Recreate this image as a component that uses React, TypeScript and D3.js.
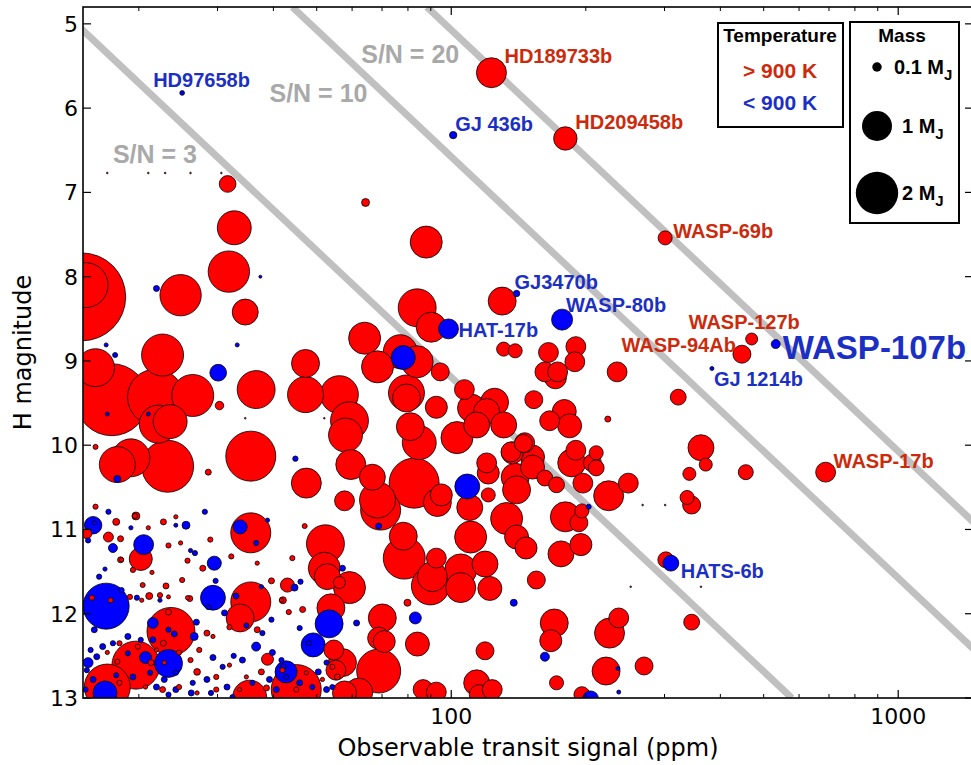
import React from "react";
import * as d3 from "d3";

// labelled planets: name, transit signal (ppm), H magnitude, mass (M_J), hot (>900 K)
const namedPlanets = ["HD97658b", "HD189733b", "GJ 436b", "HD209458b", "WASP-69b", "GJ3470b", "WASP-80b", "HAT-17b", "WASP-127b", "WASP-94Ab", "WASP-107b", "GJ 1214b", "WASP-17b", "HATS-6b"];
const namedPpm = [25.0, 123, 101, 180, 301, 140, 177, 98.6, 470, 447, 532, 383, 688, 310];
const namedH = [5.82, 5.58, 6.32, 6.36, 7.54, 8.2, 8.51, 8.62, 8.74, 8.92, 8.8, 9.09, 10.32, 11.4];
const namedMass = [0.025, 1.0, 0.06, 0.61, 0.22, 0.045, 0.49, 0.44, 0.16, 0.36, 0.09, 0.018, 0.44, 0.28];
const namedHot = [false, true, false, true, true, false, false, false, true, true, false, false, true, false];

// other hot planets [ppm, H, mass]
const hotPlanets = [
  [302, 11.36, 0.28], [31.6, 6.9, 0.31], [32.7, 7.42, 1.28], [31.8, 7.94, 1.9], [24.8, 8.22, 1.9],
  [14.9, 8.24, 8.6], [15.2, 8.1, 2.25], [16.0, 9.08, 1.6], [22.6, 8.93, 1.96], [17.4, 9.46, 5.76],
  [21.8, 9.43, 3.5], [26.4, 9.41, 1.96], [23.5, 9.72, 1.28], [22.1, 9.75, 1.6], [17.9, 10.23, 1.44],
  [19.2, 10.15, 1.6], [23.2, 10.25, 3.0], [35.6, 10.13, 2.78], [36.6, 9.34, 1.6], [47.2, 9.03, 0.87],
  [47.2, 9.4, 1.44], [56.2, 9.4, 1.6], [59.2, 9.71, 1.6], [58.0, 9.88, 1.28], [59.6, 10.23, 1.0],
  [34.6, 8.42, 0.75], [30.3, 9.53, 0.08], [16.0, 10.02, 0.028], [47.4, 10.45, 1.0], [64.3, 7.12, 0.07],
  [87.9, 7.59, 1.14], [83.9, 8.37, 1.6], [90.2, 8.6, 1.0], [130, 8.29, 0.87], [64.0, 8.73, 1.14],
  [68.4, 9.07, 1.14], [76.9, 8.89, 1.28], [83.9, 9.01, 1.14], [94.5, 9.13, 0.36], [107, 9.34, 0.44],
  [131, 8.86, 0.22], [139, 8.88, 0.22], [165, 8.9, 0.44], [190, 8.83, 0.44], [189, 9.01, 0.44],
  [162, 9.13, 0.44], [171, 9.2, 0.54], [173, 9.13, 0.44], [235, 9.13, 0.44], [224, 9.69, 0.04],
  [79.4, 9.38, 1.44], [79.4, 9.44, 0.87], [92.6, 9.55, 0.54], [81.0, 9.78, 0.87], [84.8, 9.97, 1.28],
  [103, 9.91, 1.14], [111, 9.56, 0.87], [125, 9.49, 0.87], [120, 9.6, 0.75], [131, 9.76, 0.75],
  [114, 9.76, 0.75], [153, 9.46, 0.36], [179, 9.6, 0.64], [166, 9.71, 0.44], [184, 9.77, 0.64],
  [146, 9.97, 0.44], [136, 10.08, 0.44], [152, 10.14, 0.64], [190, 10.06, 0.44], [211, 10.09, 0.22],
  [186, 10.21, 0.87], [207, 10.21, 0.36], [120, 10.21, 0.44], [57.7, 10.66, 0.44], [66.6, 10.38, 0.75],
  [68.4, 10.65, 1.44], [69.5, 10.77, 1.78], [82.6, 10.45, 2.78], [95.0, 10.59, 0.54], [93.1, 10.68, 0.87],
  [78.1, 11.08, 0.87], [78.5, 11.34, 1.96], [90.7, 11.56, 1.0], [89.8, 11.67, 1.6], [105, 11.48, 1.14],
  [105, 11.69, 1.0], [92.6, 11.34, 0.44], [119, 11.41, 0.75], [122, 11.7, 0.64], [110, 10.74, 0.75],
  [110.5, 11.09, 1.14], [121, 10.59, 0.22], [121, 10.33, 0.54], [133, 10.87, 1.14], [139, 10.38, 0.87],
  [140, 10.53, 0.87], [140, 11.09, 0.64], [147, 11.22, 0.54], [152, 10.26, 0.64], [145, 9.98, 0.36],
  [137, 10.09, 0.54], [162, 10.39, 0.28], [172, 10.47, 0.28], [211, 10.27, 0.28], [197, 10.45, 0.44],
  [225, 10.6, 1.0], [249, 10.45, 0.44], [180, 10.85, 1.0], [193, 10.92, 0.36], [196, 10.78, 0.22],
  [176, 11.29, 0.75], [195, 11.18, 0.54], [155, 11.6, 0.36], [170, 12.11, 0.87], [167, 12.32, 0.54],
  [119, 12.44, 0.36], [172, 12.82, 0.22], [226, 12.23, 1.0], [237, 12.05, 0.44], [222, 12.68, 0.87],
  [114, 12.82, 0.75], [115.5, 12.96, 0.44], [84, 12.36, 0.64], [79.8, 11.87, 0.054], [70.1, 12.05, 0.87],
  [68.8, 12.29, 0.54], [70.8, 12.33, 0.54], [68.8, 12.68, 2.15], [53.8, 11.93, 0.87], [54.6, 12.43, 0.44],
  [57.1, 12.58, 0.87], [55.2, 12.67, 0.44], [62.1, 12.93, 0.87], [57.7, 12.94, 0.64], [52, 11.46, 1.14],
  [52.3, 11.17, 1.6], [52.8, 11.56, 0.75], [59.2, 11.69, 1.14], [56.2, 11.63, 0.16], [47, 10.96, 0.028],
  [345, 12.1, 0.28], [270, 12.62, 0.36], [196, 12.96, 0.28], [86.5, 12.9, 0.44], [92.6, 12.93, 0.44],
  [123.5, 12.9, 0.44], [322, 9.43, 0.28], [362, 10.03, 0.75], [371, 10.23, 0.19], [341, 10.34, 0.19],
  [456, 10.32, 0.25], [337, 10.62, 0.22], [345, 10.71, 0.36], [15.3, 11.05, 0.11], [17.1, 11.09, 0.11],
  [17.8, 10.91, 0.054], [19.7, 10.84, 0.07], [18.2, 11.11, 0.04], [20.2, 11.35, 0.59], [18.2, 11.36, 0.04],
  [35.6, 11.04, 1.78], [43, 11.66, 0.22], [42, 11.84, 0.054], [35.6, 11.86, 1.78], [33.7, 12.05, 0.87],
  [23.6, 12.21, 2.56], [19.7, 12.61, 2.56], [17.0, 12.87, 2.35], [38.8, 12.54, 0.16], [45.0, 12.9, 2.78],
  [35.4, 12.99, 1.28], [26.0, 11.82, 0.04], [21.1, 11.79, 0.054], [20.4, 11.66, 0.028], [23.3, 11.8, 0.018],
  [28.6, 10.32, 0.04],
];

// small hot planets in the faint corner
const hotSmall = [
  [19.6, 10.84, 0.03], [24.2, 10.85, 0.02], [22.7, 10.91, 0.04], [23.3, 11.19, 0.03], [24.8, 11.16, 0.02],
  [25.7, 11.37, 0.03], [27.8, 11.46, 0.04], [19.4, 11.48, 0.03], [21.4, 11.51, 0.02], [25.0, 11.6, 0.03],
  [23.0, 11.67, 0.04], [18.3, 11.36, 0.02], [19.1, 11.8, 0.03], [20.3, 11.84, 0.02], [22.3, 11.78, 0.03],
  [25.7, 11.81, 0.02], [32.2, 11.32, 0.03], [39.6, 11.61, 0.04], [44.1, 11.34, 0.03], [46.5, 11.95, 0.04],
  [43.3, 11.98, 0.03], [41.7, 11.84, 0.02], [31.9, 12.16, 0.03], [28.4, 12.23, 0.04], [29.3, 12.27, 0.02],
  [24.6, 12.46, 0.03], [22.7, 12.35, 0.04], [21.9, 12.43, 0.02], [19.9, 12.39, 0.03], [17.0, 12.46, 0.02],
  [17.9, 12.57, 0.03], [21.3, 12.58, 0.04], [22.8, 12.58, 0.02], [26.1, 12.55, 0.03], [27.0, 12.69, 0.05],
  [29.8, 12.75, 0.03], [34.8, 12.75, 0.02], [37.6, 12.69, 0.04], [41.9, 12.67, 0.03], [47.4, 12.7, 0.02],
  [54.2, 12.63, 0.03], [55.6, 12.75, 0.04], [51.5, 12.78, 0.02], [45.0, 12.9, 0.03], [38.6, 12.88, 0.04],
  [33.6, 12.9, 0.02], [29.8, 12.9, 0.03], [27.0, 12.94, 0.02], [24.6, 12.87, 0.03], [22.6, 12.9, 0.04],
  [20.7, 12.87, 0.02], [18.1, 12.82, 0.03], [16.0, 10.73, 0.03], [21.0, 10.98, 0.02], [28.9, 11.12, 0.03],
  [36.8, 11.4, 0.02], [17.3, 11.84, 0.03], [23.3, 11.98, 0.04], [27.3, 12.43, 0.03], [31.9, 12.61, 0.02],
  [15.7, 11.81, 0.03], [36.8, 12.19, 0.04], [18.1, 12.35, 0.03],
];

// cool planets [ppm, H, mass]
const coolPlanets = [
  [78.1, 8.96, 0.64], [108.6, 10.49, 0.69], [21.9, 8.14, 0.04], [17.7, 8.93, 0.028], [16.9, 8.81, 0.018],
  [33.2, 8.81, 0.018], [37.4, 8.0, 0.01], [17.0, 9.63, 0.018], [21.0, 9.63, 0.018], [44.8, 10.16, 0.032],
  [30.1, 9.14, 0.31], [17.9, 10.4, 0.054], [15.8, 10.95, 0.34], [17.5, 11.22, 0.09], [20.5, 11.18, 0.44],
  [25.5, 10.95, 0.07], [24.2, 10.95, 0.018], [29.5, 11.4, 0.22], [33.7, 10.97, 0.22], [44.6, 11.69, 0.054],
  [16.9, 11.91, 2.35], [29.3, 11.81, 0.69], [23.3, 12.59, 0.87], [16.8, 12.94, 0.64], [21.5, 12.11, 0.13],
  [20.7, 12.52, 0.16], [15.4, 12.58, 0.11], [26.6, 12.27, 0.07], [36.6, 12.39, 0.09], [42.7, 12.69, 0.54],
  [49.1, 12.37, 0.64], [53.3, 12.12, 0.87], [83.1, 12.05, 0.16], [61.4, 12.11, 0.04], [57.1, 11.46, 0.04],
  [68.8, 10.96, 0.04], [138, 11.87, 0.054], [203, 10.73, 0.028], [162, 12.51, 0.09], [236, 12.65, 0.018],
  [237, 12.93, 0.018], [205, 13.01, 0.28],
];

const coolSmall = [
  [17.1, 10.79, 0.03], [15.9, 10.92, 0.02], [36.6, 11.16, 0.03], [26.1, 11.25, 0.02], [26.7, 11.28, 0.03],
  [16.3, 11.56, 0.03], [16.8, 11.47, 0.02], [29.7, 11.61, 0.03], [37.6, 11.68, 0.02], [46.0, 11.62, 0.03],
  [19.8, 11.81, 0.03], [22.3, 11.84, 0.02], [33.0, 11.79, 0.04], [37.8, 12.23, 0.03], [29.3, 12.52, 0.04],
  [32.6, 12.5, 0.03], [39.8, 12.46, 0.04], [41.7, 12.55, 0.03], [42.1, 12.63, 0.04], [52.6, 12.58, 0.03],
  [50.4, 12.69, 0.04], [48.0, 12.35, 0.03], [34.8, 12.14, 0.03], [31.1, 11.99, 0.04], [28.6, 11.92, 0.03],
  [24.0, 12.24, 0.04], [23.3, 12.19, 0.03], [21.5, 12.31, 0.04], [20.2, 12.31, 0.03], [18.9, 12.27, 0.04],
  [17.5, 12.35, 0.03], [16.6, 12.39, 0.04], [15.6, 12.43, 0.03], [16.1, 12.51, 0.04], [15.3, 12.67, 0.03],
  [15.8, 12.78, 0.04], [15.2, 12.9, 0.03], [18.9, 12.47, 0.03], [19.4, 12.75, 0.04], [21.2, 12.7, 0.03],
  [22.8, 12.78, 0.04], [24.2, 12.7, 0.03], [24.2, 12.9, 0.04], [26.4, 12.82, 0.03], [28.4, 12.78, 0.04],
  [30.8, 12.63, 0.03], [31.5, 12.87, 0.04], [35.9, 12.82, 0.03], [39.2, 12.78, 0.04], [42.7, 12.75, 0.03],
  [45.8, 12.82, 0.04], [48.9, 12.87, 0.03], [52.6, 12.9, 0.04], [54.2, 12.87, 0.03], [40.6, 12.9, 0.04],
  [29.0, 12.94, 0.03], [26.2, 12.94, 0.04], [23.3, 12.96, 0.03], [21.9, 12.87, 0.04], [32.4, 12.99, 0.03],
  [15.4, 11.13, 0.03], [19.2, 10.98, 0.02], [28.1, 10.79, 0.03], [38.8, 10.89, 0.02], [18.3, 11.72, 0.03],
  [26.9, 12.1, 0.04], [39.6, 12.07, 0.03], [45.8, 12.17, 0.03], [15.9, 12.19, 0.04], [17.8, 12.73, 0.03],
  [34.1, 12.55, 0.04],
];

// planets too light to show more than a dot
const tinyDots = [
  [17.0, 6.77], [21.0, 6.77], [22.9, 6.77], [26.1, 6.77], [30.6, 6.77],
  [268, 10.71], [301, 10.71], [252, 11.68], [362, 11.68], [34.6, 9.68], [52.0, 9.68],
];

// S/N lines: ppm where each crosses the top (H = 4.8) and bottom (H = 13) of the plot
const snLabels = ["S/N = 3", "S/N = 10", "S/N = 20"];
const snTopPpm = [13.2, 44.1, 88.2];
const snBottomPpm = [578, 1927, 3853];
const snLabelPpm = [17.5, 39.2, 62.9];
const snLabelH = [6.65, 5.93, 5.46];

const yTicks = [5, 6, 7, 8, 9, 10, 11, 12, 13];
const xMajor = [100, 1000];
const xMinor = [20, 30, 40, 50, 60, 70, 80, 90, 200, 300, 400, 500, 600, 700, 800, 900];
const massLegend = [0.1, 1, 2];
const massLegendText = ["0.1 M", "1 M", "2 M"];

const width = 971;
const height = 765;
const box = { left: 83, right: 973, top: 7, bottom: 698 };
const RED = "#ff0000";
const BLUE = "#0000ff";
const RED_TXT = "#cc2a0c";
const BLUE_TXT = "#1c2fc4";
const BOLD = "'Liberation Sans', Arial, sans-serif";
const AXIS_FONT = "'DejaVu Sans', sans-serif";

// label offsets from the marker: dx, dy, anchor, font size
const labelLayout: Record<string, [number, number, string, number]> = {
  "HD97658b": [-29, -6, "start", 20],
  "HD189733b": [13, -10, "start", 20],
  "GJ 436b": [2, -4, "start", 20],
  "HD209458b": [10, -9, "start", 20],
  "WASP-69b": [8, 0, "start", 20],
  "GJ3470b": [-2, -5, "start", 20],
  "WASP-80b": [4, -8, "start", 20],
  "HAT-17b": [10, 8, "start", 20],
  "WASP-127b": [-63, -10, "start", 20],
  "WASP-94Ab": [-6, -2, "end", 20],
  "WASP-107b": [7, 15, "start", 33],
  "GJ 1214b": [2, 17, "start", 20],
  "WASP-17b": [8, -4, "start", 20],
  "HATS-6b": [10, 15, "start", 20],
};

const App = () => {
  const x = d3.scaleLog().domain([15, 1470]).range([box.left, box.right]);
  const y = d3.scaleLinear().domain([4.8, 13]).range([box.top, box.bottom]);
  const r = d3.scaleSqrt().domain([0, 1]).range([0, 15]);

  const points = [
    ...hotPlanets.map((d) => ({ ppm: d[0], h: d[1], m: d[2], hot: true })),
    ...hotSmall.map((d) => ({ ppm: d[0], h: d[1], m: d[2], hot: true })),
    ...coolPlanets.map((d) => ({ ppm: d[0], h: d[1], m: d[2], hot: false })),
    ...coolSmall.map((d) => ({ ppm: d[0], h: d[1], m: d[2], hot: false })),
    ...tinyDots.map((d) => ({ ppm: d[0], h: d[1], m: 0.003, hot: true })),
    ...namedPlanets.map((n, i) => ({ ppm: namedPpm[i], h: namedH[i], m: namedMass[i], hot: namedHot[i] })),
  ].sort((a, b) => b.m - a.m);

  const line = d3
    .line<[number, number]>()
    .x((d) => x(d[0]))
    .y((d) => y(d[1]));

  return (
    <svg width={width} height={height} style={{ position: "absolute", left: 0, top: 0, background: "#fff" }}>
      <defs>
        <clipPath id="plotClip">
          <rect x={box.left} y={box.top} width={box.right - box.left} height={box.bottom - box.top} />
        </clipPath>
      </defs>

      <g clipPath="url(#plotClip)">
        {snLabels.map((s, i) => (
          <path
            key={s}
            d={line([[snTopPpm[i], 4.8], [snBottomPpm[i], 13]]) || ""}
            stroke="#c0c0c0"
            strokeWidth={7}
            fill="none"
          />
        ))}
        {points.map((p, i) => (
          <circle
            key={i}
            cx={x(p.ppm)}
            cy={y(p.h)}
            r={r(p.m)}
            fill={p.hot ? RED : BLUE}
            stroke="#000"
            strokeWidth={0.8}
          />
        ))}
      </g>

      {snLabels.map((s, i) => (
        <text key={s} x={x(snLabelPpm[i])} y={y(snLabelH[i])} fontFamily={BOLD} fontWeight="bold" fontSize={25} fill="#a9a9a9">
          {s}
        </text>
      ))}

      {namedPlanets.map((n, i) => {
        const [dx, dy, anchor, size] = labelLayout[n];
        return (
          <text
            key={n}
            x={x(namedPpm[i]) + dx}
            y={y(namedH[i]) + dy}
            textAnchor={anchor}
            fontFamily={BOLD}
            fontWeight="bold"
            fontSize={size}
            fill={namedHot[i] ? RED_TXT : BLUE_TXT}
          >
            {n}
          </text>
        );
      })}

      {/* frame and ticks */}
      <rect x={box.left} y={box.top} width={box.right - box.left} height={box.bottom - box.top} fill="none" stroke="#000" strokeWidth={1.6} />
      {yTicks.map((t) => (
        <g key={t}>
          <line x1={box.left} x2={box.left + 8} y1={y(t)} y2={y(t)} stroke="#000" strokeWidth={1.2} />
          <line x1={box.right} x2={box.right - 8} y1={y(t)} y2={y(t)} stroke="#000" strokeWidth={1.2} />
          <text x={78} y={y(t)} dy="0.36em" textAnchor="end" fontFamily={AXIS_FONT} fontSize={22}>
            {t}
          </text>
        </g>
      ))}
      {xMajor.map((t) => (
        <g key={t}>
          <line x1={x(t)} x2={x(t)} y1={box.bottom} y2={box.bottom - 8} stroke="#000" strokeWidth={1.2} />
          <line x1={x(t)} x2={x(t)} y1={box.top} y2={box.top + 8} stroke="#000" strokeWidth={1.2} />
          <text x={x(t)} y={724} textAnchor="middle" fontFamily={AXIS_FONT} fontSize={22}>
            {t}
          </text>
        </g>
      ))}
      {xMinor.map((t) => (
        <g key={t}>
          <line x1={x(t)} x2={x(t)} y1={box.bottom} y2={box.bottom - 4} stroke="#000" strokeWidth={1} />
          <line x1={x(t)} x2={x(t)} y1={box.top} y2={box.top + 4} stroke="#000" strokeWidth={1} />
        </g>
      ))}
      <text x={(box.left + box.right) / 2} y={756} textAnchor="middle" fontFamily={AXIS_FONT} fontSize={24}>
        Observable transit signal (ppm)
      </text>
      <text transform={`translate(31,${(box.top + box.bottom) / 2}) rotate(-90)`} textAnchor="middle" fontFamily={AXIS_FONT} fontSize={24}>
        H magnitude
      </text>

      {/* temperature legend */}
      <g fontFamily={BOLD} fontWeight="bold">
        <rect x={718} y={23} width={125} height={104} fill="#fff" stroke="#000" strokeWidth={2} />
        <text x={780} y={42} textAnchor="middle" fontSize={19}>Temperature</text>
        <text x={780} y={78} textAnchor="middle" fontSize={21} fill={RED_TXT}>&gt; 900 K</text>
        <text x={780} y={110} textAnchor="middle" fontSize={21} fill={BLUE_TXT}>&lt; 900 K</text>
      </g>

      {/* mass legend */}
      <g fontFamily={BOLD} fontWeight="bold">
        <rect x={850} y={22} width={109} height={201} fill="#fff" stroke="#000" strokeWidth={2} />
        <text x={902} y={42} textAnchor="middle" fontSize={19}>Mass</text>
        {massLegend.map((m, i) => {
          const cy = [67, 126, 193][i];
          const tx = [894, 902, 902][i];
          return (
            <g key={m}>
              <circle cx={877} cy={cy} r={r(m)} fill="#000" />
              <text x={tx} y={cy + 7} fontSize={20}>
                {massLegendText[i]}
                <tspan dy={6} fontSize={15}>J</tspan>
              </text>
            </g>
          );
        })}
      </g>
    </svg>
  );
};

export default App;
